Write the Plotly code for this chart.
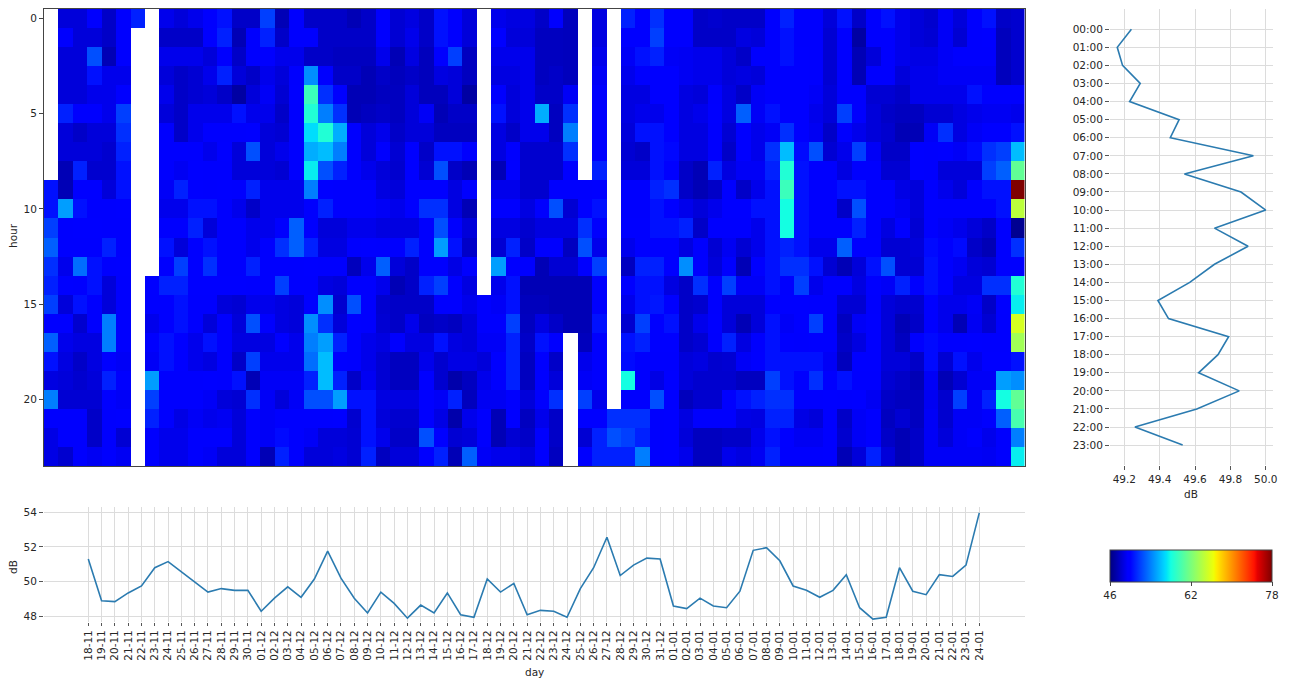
import plotly.graph_objects as go

N = None
days = ["18-11","19-11","20-11","21-11","22-11","23-11","24-11","25-11","26-11","27-11","28-11","29-11","30-11",
        "01-12","02-12","03-12","04-12","05-12","06-12","07-12","08-12","09-12","10-12","11-12","12-12","13-12","14-12","15-12",
        "16-12","17-12","18-12","19-12","20-12","21-12","22-12","23-12","24-12","25-12","26-12","27-12","28-12","29-12","30-12","31-12",
        "01-01","02-01","03-01","04-01","05-01","06-01","07-01","08-01","09-01","10-01","11-01","12-01","13-01","14-01","15-01","16-01",
        "17-01","18-01","19-01","20-01","21-01","22-01","23-01","24-01"]
hour_labels = [f"{h:02d}:00" for h in range(24)]
hours = list(range(24))

h00 = [N,48.5,48.5,49.5,48,49.5,51,N, 49,48.5,49,49.5,50.5,48,48,52,47.5,49.5,48,48,48,47.5,48, 49.5,48.3,48.7,48,50.5,49.5,48.5, N, 49,48.7,48.7,48,49.5,47.7, N,48.7,N, 51,49.7,51.5,49.5,49.5, 48,48.2,48,48,48,49.5,51,49.5,49.5,48.5,50.5,48,49.5,50.5,49,48.5,48.2,49.3,48.5,49.5,50.5,48,48.2]
h01 = [N,49.5,48.5,48.5,48,49.5,N,N, 48,48,48,50,51,47.5,49.5,51,48,49.5,49.5,48,48,48,48, 49.5,48.3,49,48,50.5,49.5,48.5, N, 49.7,48.5,48.5,47.8,47.8,47.7, N,48.7,N, 50,49.7,52,49.5,49.5, 48,48,48,48.7,48.5,49.5,50.5,49.5,49.5,48.3,49.7,47,49.5,49.5,49,48.5,48.3,49.3,48.3,49.5,50,47.7,48.2]
h02 = [N,48.5,48.5,52.5,47.5,49.5,N,N, 49,49,49,48.5,49.5,48,49.5,49.5,49,49,48,48,47.8,47.8,47.8, 49,47.5,48.7,47.7,49.7,52,47.8, N, 49,49,49,47.8,47.8,47.7, N,49,N, 49.3,50.5,51,49.3,49.2, 49,49,48.5,48,49.5,49.5,50.5,50,49.5,48.3,49.7,47.5,48.5,49.5,49,48.8,48.8,49.3,49.5,49.5,49.5,47.7,48.2]
h03 = [N,48.5,48.5,50.5,49,49,N,N, 48.5,48,48.3,49,51,48.5,48,49,48.5,49.5,54.5,49.5,48,48,47.5, 48,47.7,48,47.7,48.7,48.5,47.8, N, 48.7,48.7,49,47.8,48,47.7, N,49.3,N, 49,49.5,49.7,49.7,49.2, 49,49,48.5,48.7,48.5,49.5,50,50,49.5,48.3,49.7,47.5,49.5,49.5,48.5,49,49,49.3,49.3,49.3,49.3,47.7,48.2]
h04 = [N,48.5,48.5,49,49,50,N,N, 49,48,48.3,48.5,48,47,48.5,49.3,48.3,50,59.5,51.5,49.5,47.5,47.5, 47.8,47.8,48.5,47.7,47.7,48.5,47, N, 49.5,48.5,49,48,48,49.3, N,49.5,N, 48.7,48.7,49.7,50,48.7, 48.5,49.5,48.7,48,49.3,49.5,50,49.7,49.3,48.5,49.5,49.5,48.3,48.3,48,49,49,49,49,50.5,49.5,49.5,49.5]
h05 = [N,51,49.5,49.5,49,52,N,N, 48.5,48,49,49,49,50.5,49,49,48,49.5,58.5,54,51.5,47.5,47.8, 48,47.8,48.5,49.3,47.5,48,48, N, 50.5,48.5,49,55.5,47.8,51.5, N,49.7,N, 48.7,49,49,50,48.7, 49,50,48.7,53,49.3,50.5,49.7,50,49,48.5,52,49.5,48.5,48,47.8,47.8,48.3,48.3,48.7,49,49.2,49.2,49]
h06 = [N,48.5,48,48.5,48.5,51.5,N,N, 49.5,48,49,49.5,49.5,49.5,50,48.5,48.3,49.5,57,58.5,55.5,49.5,48.5, 49,48,48.5,48.5,47.8,47.8,47.8, N, 48.7,48,49,49,47.8,54, N,49.7,N, 48.5,50.5,50.5,50,48.7, 48.7,49.5,48.3,50,49,49.3,51.5,50,49.2,48,49.5,49,48.5,48.2,47.5,47.5,49.3,51.5,48.7,49.3,50,50,50.5]
h07 = [N,48.5,48.5,48.5,48.2,51,N,N, 49.5,49.5,49.5,49,50,48.5,52.5,48.5,49,49.5,55.5,56,54,49.5,48.5, 49.5,48.3,50,48,50.5,50.5,49.5, N, 48.7,49.5,48.2,48.2,48.2,51.5, N,49.7,N, 48.3,48,50.5,50.2,48.7, 48.7,49.5,48,50,49,51.5,56,50.3,52.5,48.3,49,52,49.3,48,48,50,49.5,50,49.3,50.3,51.5,52,56]
h08 = [N,47.5,51,48.2,48.2,50.5,N,N, 49.5,49.2,49.7,49.5,49.5,48.5,48.5,48.5,48.3,49.5,57.5,52.5,51,49.5,49, 48.5,48.2,50,48.3,52.5,48,47.5, N, 47.5,50,48.2,48.2,48.2,50, N,51,N, 48.5,48.5,50.5,50,48, 47.5,51,48.7,49.3,49.3,51,58.5,50.5,49.5,49.5,48.7,49.5,49.5,48.3,48.3,49.7,49.5,48.5,48.5,48.5,52,53,61]
h09 = [50.5,47.5,50,49.7,48.5,50.5,N,N, 49.3,51,50,49.5,50,49.5,51,49,49,49,54,50,49.5,49.5,49.5, 48.7,48.5,49.7,49.7,49.7,48.7,49.5, N, 49,49,48.2,48.2,49.5,49.5, 49.5,50,N, 49.5,49.5,51,51.5,48, 47.5,48,49.7,48,49,50.5,59.5,50.5,49.5,49.5,50.5,50.5,49.5,49.5,48.8,48.5,49.5,49,48.5,49.5,50.5,50.5,78]
h10 = [50.5,55,50.5,49.5,49.5,50,N,N, 49,49,50.5,50.5,49.5,49,48,49,49,49,49.5,51,49.5,49.5,49.5, 49.3,49,49.8,51.5,51.5,48.7,47.5, N, 49.5,49.5,48.7,49.5,52.5,48.3, 49.7,50.5,N, 49.5,49.5,50.5,50,49, 48.5,49,50,50,50.5,50.5,58,50.5,49.5,49.5,48,52.5,49.5,49.5,49.2,48.5,50,49.5,49.5,49.5,49.5,50.5,64.5]
h11 = [52,49.5,49.7,49.7,49.5,49.5,N,N, 49.5,49.5,51,48.5,49.5,49.5,49,49,49.5,53,49.5,48.5,48.5,49,49, 48.7,48.7,48.7,49.5,52.5,49.5,48.5, N, 48.7,48.7,48.2,48.7,48.7,48.7, 51.5,49.5,N, 49.7,49.7,50.5,50.5,51, 48,49.5,49.5,49.5,49,50.5,58,50.5,49.5,49.5,49.5,51,49.5,48.7,50,48.3,50,49.3,49,48.5,48,49.5,46.5]
h12 = [53,49.5,49.5,49.5,51,49.5,N,N, 50.5,48.5,50,50.5,49.5,49.5,49,49.5,51.5,53,51,48.7,48.7,49.5,50, 49.5,49.5,51,49.5,55,50.5,48, N, 48.3,51,48,49.5,49.5,47.8, 52.5,49,N, 49,49.7,50,50,48.7, 49.5,48.3,49.2,48.3,49,50.5,51,50.5,49,49,53,50,50,48.3,48.3,48.5,50.3,49.5,50.3,48,47.5,49.5,51.5]
h13 = [51.5,49,53.5,50.5,49.5,50,N,N, 49.5,52,50,51.5,49.5,49.5,51,49.5,49.5,49.5,49.8,49.5,49.5,47.7,49, 53,48.5,48,49.5,49.5,48.8,49.5, N, 55,50,49.5,47.5,48.3,48.3, 50,52,N, 47.8,51,51,49.7,54.5, 49.5,48.5,49.5,47.5,50,50.5,51.5,51.5,50.5,48.3,47.5,48.5,50.5,52.5,48.3,48.3,50.5,49.5,49.2,48.5,48.3,49.5,49.5]
h14 = [51,50,49.5,50.5,48.5,49.5,N,49.7, 51,51,50,49.8,50,50,49.5,49.5,52,49.5,49.5,48.7,48.5,49.5,49.5, 49,47.5,48,51,52,50,48.7, N, 49,50.5,47.5,47.5,47.5,47.5, 47.5,49.5,N, 49.5,50.5,50.5,48.7,48, 51.5,49.5,52,49.3,49.3,50.5,49.5,52,49,50,50,48.7,50,49.3,51,49.5,50.5,50,48.7,48.7,51.5,51.5,58.5]
h15 = [52,48.5,50.5,49.5,48.5,49.5,N,50, 50,50.5,49.5,49.5,48.5,48.3,49,49,48.7,48.5,50,54.5,48.2,52.5,49.5, 48.2,48,48,48,50,50,49, 49.5, 49.3,50.5,47.7,47.7,47.5,47.5, 47.5,49.5,N, 49,50.5,50.7,50,48, 48.2,49.5,48.5,48.5,48.5,50,49.7,49.7,49.5,49.5,48.3,48.3,49.5,48.5,48.2,48.2,50,49,49,49.3,48,50,57.5]
h16 = [50,50,48.2,49.5,54,49.5,N,49, 50,50.5,49.5,48.5,49.5,48.5,52.5,49.5,48.7,48.5,54.5,51.5,48.5,50,49.5, 48.3,48,49,47.8,48,47.8,48.5, 49.5, 49.5,52,47.8,48.7,48,47.5, 47.5,50.5,N, 48.2,52,50,50.5,48, 49,50,48.5,47.5,48.5,50.5,49.3,50,52,49.5,47.8,49.3,49.7,48.5,47.5,48,50,49,47.5,49.2,48.3,49.5,65.5]
h17 = [53,49,48.7,48.7,54,49.5,N,49.5, 50.5,50,49,50.5,49.5,48.7,48.7,48.7,49.7,49,54,55,51,49.5,49, 48.7,49.5,48.7,48.7,50.5,48.7,48.5, 49.3, 49.3,51,48,50.5,50,N, 47.7,49.5,N, 50.5,51,50,50,48, 48.3,49.5,51,48.7,49.5,50.5,50,49.5,50,50,48,48.7,50,48.5,47.8,49.5,50.3,49.5,49.5,49.7,49.5,49.5,63.5]
h18 = [50.5,48.7,48,48.7,50,49.3,N,49.3, 50.5,50,49,48.7,49.5,48,52,49,49,49,53.5,56,50,49.5,49, 48.3,47.8,47.8,49,48.2,48.8,48.8, 48.5, 50,51,47.8,49.5,48,N, 49,49.5,N, 50.3,49.5,49.5,49.5,48.5, 48.7,48.2,48.3,49.3,50,50.5,50.5,50.5,50.5,49.3,47.7,50,50,48.5,48.5,48,50.3,48.3,50.5,49,49.7,49.7,50.5]
h19 = [48.7,48.5,48.2,48.5,51,49.5,N,55, 49.5,49.5,49.5,50,49.5,50.5,47.5,49.3,49.3,49.3,51,56,51,48,49.2, 48.3,47.8,47.8,50,48.2,47.2,47.8, 49, 49.5,51,47.8,50,48.5,N, 49.3,49.5,N, 58,49.5,48.8,49.7,48.5, 48.2,48.2,48.2,47.8,47.8,52,50.5,49.5,51.5,49.5,50.5,49.5,49.5,48.3,48,47.5,49.3,47.5,48.3,49.3,49.3,55,54.5]
h20 = [54,48.3,48.3,48.3,50,49.3,N,52, 49.5,49.5,49.5,49.3,48.5,48.3,51.5,49.3,48.5,49.3,52.5,52.5,55,50.5,50.5, 48.7,48.7,48.7,50,49.3,51,47.7, 49.2, 49.2,49.5,48.5,49.5,51.5,N, 52,49,N, 49.5,49.5,52.5,50,47.7, 48.2,48.2,49.5,50.5,51,51.5,51.5,49.5,49.5,50,49.5,49.8,49.2,48,47.8,47.8,49.2,48.2,52,49.3,51,58,61]
h21 = [49.5,49.5,49.5,48,49.5,50,N,51, 49.5,48.8,49.3,49,49.2,48.5,49.5,49.3,49.5,49.5,49.5,49.5,50,48.2,50.5, 48.5,48.2,48.2,50,48.8,47.2,49, 49.5, 47.5,50,47.8,49,48,N, 50,50,51.5,51.5,51.5,49.5,49.8,48.7, 49.5,49.5,49.5,48.8,48.7,51,51,48.8,48.5,49.7,48,49.3,49.8,47.8,48.3,47.8,49.3,48.2,49.3,49.3,49.5,53,60]
h22 = [48.8,49.5,49.5,48,49.5,48.3,N,49.5, 49,49,49.5,49.5,49.5,48.5,49.5,49.3,50.3,49.5,49.3,48.5,48.5,48.3,50.5, 49,48,48,52.5,50,48.3,48.5, 49.5, 47.5,48.3,48,49.5,48,N, 48.3,51,52.5,52,51,49.5,50,48.5, 47.8,47.8,48,48,49,50.5,50,49.2,49.2,49.8,48.2,49.3,50,48,47.5,48,49.3,48.5,49.3,49.5,49,49.5,54]
h23 = [48.8,48.2,49.5,49.2,49.5,49.2,N,49.5, 49,49,49.5,49.3,48.5,48.5,49.5,47.5,51,49.5,48.5,48.5,48.7,48.3,51, 47.8,48.5,48.5,50,51,47.5,53, 49.3, 49,49,48.5,49.5,47.8,N, 49.5,51,51,51,54,49.5,49.7,49, 47.8,47.8,49,48.7,49.2,51,49.5,49.5,49.5,50,47.5,48.5,51,48.5,47.5,48,49.3,49.3,49.3,49.3,49.2,49.5,57.5]
grid = [h00,h01,h02,h03,h04,h05,h06,h07,h08,h09,h10,h11,h12,h13,h14,h15,h16,h17,h18,h19,h20,h21,h22,h23]
for i, r in enumerate(grid):
    assert len(r) == 68, (i, len(r))

daily_db = [51.3,48.9,48.85,49.35,49.75,50.8,51.15,50.55,49.95,49.4,49.6,49.5,49.5,48.3,49.05,49.7,49.1,50.15,51.75,50.2,49.05,48.2,49.4,48.75,47.9,48.65,48.2,49.35,48.1,47.95,50.15,49.4,49.9,48.1,48.35,48.3,47.95,49.6,50.8,52.55,50.35,50.95,51.35,51.3,48.6,48.45,49.05,48.6,48.5,49.45,51.8,51.95,51.2,49.75,49.5,49.1,49.5,50.4,48.5,47.85,47.95,50.8,49.45,49.25,50.4,50.3,50.95,53.95]
hourly_db = [49.24,49.16,49.19,49.29,49.23,49.51,49.46,49.93,49.54,49.86,50.0,49.71,49.9,49.71,49.57,49.39,49.45,49.79,49.73,49.62,49.85,49.61,49.26,49.53]

W, H = 1289, 680
fx = lambda p: p / W
fy = lambda p: 1 - p / H
TXT = "#262626"
GRID = "#dcdcdc"
LINE = "#2b7bb0"
FONT = dict(family="DejaVu Sans", size=10.5, color=TXT)

jet = [[0,"rgb(0,0,127)"],[0.11,"rgb(0,0,255)"],[0.125,"rgb(0,0,255)"],[0.34,"rgb(0,217,255)"],[0.35,"rgb(0,228,247)"],
       [0.375,"rgb(20,255,226)"],[0.64,"rgb(238,255,8)"],[0.65,"rgb(247,245,0)"],[0.66,"rgb(255,234,0)"],
       [0.89,"rgb(255,18,0)"],[0.91,"rgb(228,0,0)"],[1,"rgb(127,0,0)"]]

fig = go.Figure()
fig.add_trace(go.Heatmap(z=grid, x=days, y=hours, colorscale=jet, zmin=46, zmax=78, xaxis="x", yaxis="y",
    hoverongaps=False,
    colorbar=dict(orientation="h", lenmode="pixels", len=162, thicknessmode="pixels", thickness=32,
                  x=fx(1191), xanchor="center", y=fy(550), yanchor="top", xpad=0, ypad=0,
                  tickmode="array", tickvals=[46,62,78], ticks="outside", ticklen=4, tickcolor="#444",
                  tickfont=FONT, outlinewidth=1, outlinecolor="#444")))
fig.add_trace(go.Scatter(x=days, y=daily_db, mode="lines", line=dict(color=LINE, width=1.6), xaxis="x2", yaxis="y2", showlegend=False))
fig.add_trace(go.Scatter(x=hourly_db, y=hour_labels, mode="lines", line=dict(color=LINE, width=1.6), xaxis="x3", yaxis="y3", showlegend=False))

def title(text, px, py, angle=0):
    return dict(text=text, x=fx(px), y=fy(py), xref="paper", yref="paper", xanchor="center", yanchor="middle",
                showarrow=False, textangle=angle, font=FONT)

fig.update_layout(
    width=W, height=H, margin=dict(l=0, r=0, t=0, b=0, autoexpand=False), paper_bgcolor="white", plot_bgcolor="white",
    font=FONT, showlegend=False,
    xaxis=dict(domain=[fx(44), fx(1024.5)], type="category", categoryorder="array", categoryarray=days,
               range=[-0.5, 67.5], showticklabels=False, ticks="", showgrid=False, zeroline=False,
               showline=True, mirror=True, linecolor="#444", linewidth=1, anchor="y"),
    yaxis=dict(domain=[fy(466), fy(9)], range=[23.5, -0.5], tickmode="array", tickvals=[0,5,10,15,20],
               ticks="outside", ticklen=4, tickcolor="#444", showgrid=False, zeroline=False,
               showline=True, mirror=True, linecolor="#444", linewidth=1, anchor="x"),
    xaxis2=dict(domain=[fx(44), fx(1024.5)], type="category", categoryorder="array", categoryarray=days,
                range=[-3.33, 70.4], tickmode="array", tickvals=days, ticktext=days, tickangle=-90,
                ticks="outside", ticklen=3, tickcolor="#555", showgrid=True, gridcolor=GRID, gridwidth=1,
                zeroline=False, showline=False, anchor="y2", tickfont=FONT),
    yaxis2=dict(domain=[fy(622), fy(507)], range=[47.68, 54.29], tickmode="array", tickvals=[48,50,52,54],
                ticks="outside", ticklen=4, tickcolor="#555", showgrid=True, gridcolor=GRID, gridwidth=1,
                zeroline=False, showline=False, anchor="x2"),
    xaxis3=dict(domain=[fx(1110), fx(1273)], range=[49.119, 50.041], tickmode="array",
                tickvals=[49.2,49.4,49.6,49.8,50.0], ticktext=["49.2","49.4","49.6","49.8","50.0"],
                ticks="outside", ticklen=4, tickcolor="#555", showgrid=True, gridcolor=GRID, gridwidth=1,
                zeroline=False, showline=False, anchor="y3"),
    yaxis3=dict(domain=[fy(465), fy(9)], type="category", categoryorder="array", categoryarray=hour_labels,
                range=[24.1, -1.12], tickmode="array", tickvals=hour_labels, ticktext=hour_labels,
                ticks="outside", ticklen=4, tickcolor="#555", showgrid=True, gridcolor=GRID, gridwidth=1,
                zeroline=False, showline=False, anchor="x3"),
    annotations=[title("hour", 13, 236, -90), title("dB", 13, 567, -90), title("day", 534, 672), title("dB", 1191, 494)],
)
fig.write_html("out.html", config={"displayModeBar": False},
               post_script="document.body.style.margin='0';document.documentElement.style.overflow='hidden';")
